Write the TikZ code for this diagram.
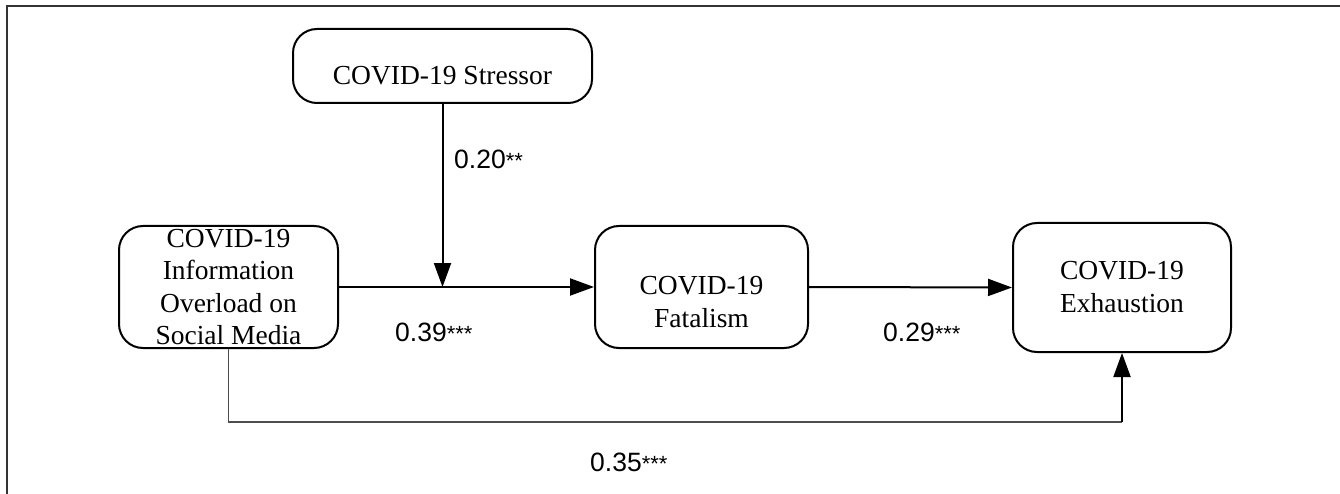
\documentclass[tikz,border=0pt]{standalone}
\usepackage{fontspec}
\setmainfont{Liberation Serif}
\newfontfamily\arialfont{Liberation Sans}
\usetikzlibrary{arrows.meta}
\begin{document}
\begin{tikzpicture}[x=1pt,y=-1pt,
  box/.style={draw=black,line width=2pt,rounded corners=24pt,rectangle,inner sep=0pt},
  boxtext/.style={align=center,inner sep=0pt,font=\fontsize{27.5}{33}\selectfont},
  coef/.style={anchor=west,inner sep=0pt,font=\arialfont\fontsize{26.5}{26}\selectfont},
  arr/.style={line width=2pt,-{Triangle[length=24pt,width=17pt]}},
  thin/.style={line width=1.3pt,draw=black!70}]
\useasboundingbox (0,0) rectangle (1340,494);
% frame
\draw[line width=2pt,draw=black!80] (7,494) -- (7,6) -- (1340,6);
% boxes
\node[box,minimum width=299pt,minimum height=74pt] (stressor) at (442.5,66) {};
\node[boxtext] (stressortext) at (442.5,76) {COVID-19 Stressor};
\node[box,minimum width=219pt,minimum height=122pt] (info) at (228.5,287) {};
\node[boxtext,font=\fontsize{27.5}{32.5}\selectfont] (infotext) at (228.5,287) {COVID-19\\Information\\Overload on\\Social Media};
\node[box,minimum width=213pt,minimum height=122pt] (fatal) at (701.5,287) {};
\node[boxtext] (fataltext) at (701.5,302) {COVID-19\\Fatalism};
\node[box,minimum width=218pt,minimum height=129pt] (exhaust) at (1122,287.5) {};
\node[boxtext] (exhausttext) at (1122,287) {COVID-19\\Exhaustion};
% connectors
\coordinate (join) at (442.5,287);
\draw[line width=2pt] (info.east) -- (join);
\draw[arr] (join) -- (fatal.west);
\draw[arr] (stressor.south) -- (join);
\draw[arr] (fatal.east) -- (exhaust.west);
\coordinate (c1) at (228.5,422);
\coordinate (c2) at (1122,422);
\draw[thin] (info.south) -- (c1) -- (c2);
\draw[arr] (c2) -- (exhaust.south);
% coefficients
\node[coef] (l20) at (454,159) {0.20{\fontsize{22}{22}\selectfont **}};
\node[coef] (l39) at (395,332) {0.39{\fontsize{22}{22}\selectfont ***}};
\node[coef] (l29) at (883,332) {0.29{\fontsize{22}{22}\selectfont ***}};
\node[coef] (l35) at (590,462) {0.35{\fontsize{22}{22}\selectfont ***}};
\end{tikzpicture}
\end{document}
